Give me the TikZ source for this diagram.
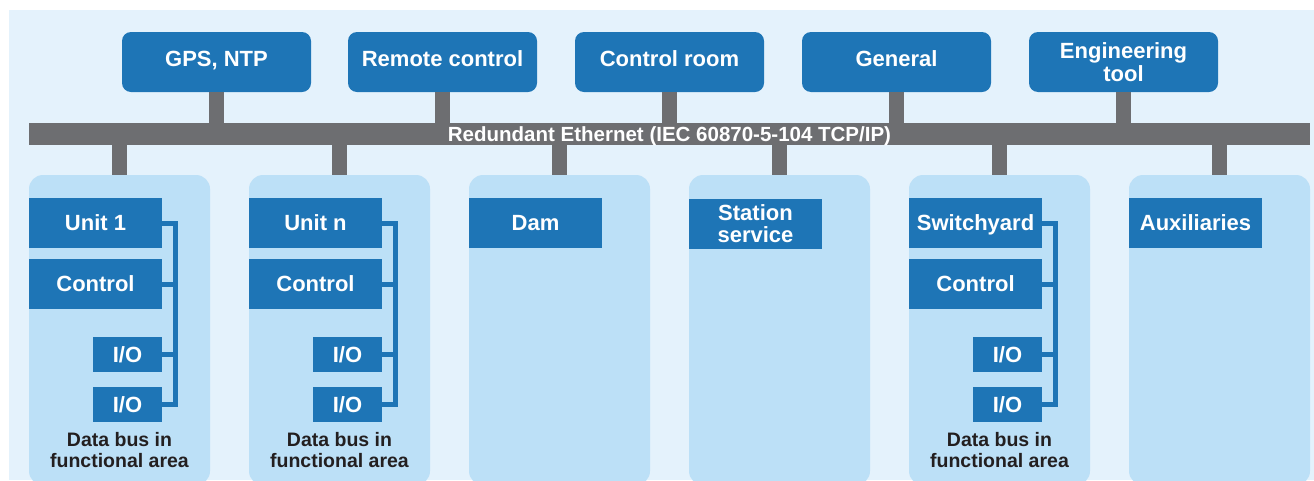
\documentclass[tikz,border=0pt]{standalone}
\usepackage{fontspec}
\setmainfont{Liberation Sans}
\definecolor{boxblue}{HTML}{1E75B6}
\definecolor{areablue}{HTML}{BCE0F7}
\definecolor{paleblue}{HTML}{E4F2FC}
\definecolor{busgray}{HTML}{6D6E71}
\definecolor{labeldark}{HTML}{231F20}
\tikzset{topbase/.style={fill=boxblue, text=white, rounded corners=9pt, minimum width=189pt, minimum height=60pt, inner sep=0pt, align=center, font=\bfseries\fontsize{22}{23}\selectfont}}
\tikzset{topbox/.style={topbase, text height=15.8pt, text depth=7pt}}
\tikzset{areabox/.style={fill=areablue, rounded corners=14pt, minimum width=181pt, minimum height=310pt, inner sep=0pt}}
\tikzset{blockbase/.style={fill=boxblue, text=white, minimum width=133pt, minimum height=50pt, inner sep=0pt, align=center, font=\bfseries\fontsize{22}{22}\selectfont}}
\tikzset{unitbox/.style={blockbase, text height=15.8pt, text depth=0pt}}
\tikzset{iobox/.style={fill=boxblue, text=white, minimum width=69pt, minimum height=35pt, inner sep=0pt, text height=15.8pt, text depth=0pt, font=\bfseries\fontsize{22}{22}\selectfont}}
\tikzset{stem/.style={draw=busgray, line width=15pt}}
\tikzset{databus/.style={draw=boxblue, line width=5pt}}
\tikzset{buslabel/.style={text=labeldark, align=center, inner sep=0pt, font=\bfseries\fontsize{19.5}{21}\selectfont}}

\begin{document}
\begin{tikzpicture}[x=1pt, y=-1pt]
	\useasboundingbox (0,0) rectangle (1314,480);
	\clip (0,0) rectangle (1314,480);
	\fill[paleblue] (9,10) rectangle (1314,480);

	% Top row
	\node[topbox] (gps) at (216.5,62) {GPS, NTP};
	\node[topbox] (remote) at (442.5,62) {Remote control};
	\node[topbox] (ctrlroom) at (669.5,62) {Control room};
	\node[topbox] (general) at (896.5,62) {General};
	\node[topbase] (engtool) at (1123.5,62) {Engineering\\tool};

	% Ethernet
	\node[fill=busgray, minimum width=1281pt, minimum height=22pt, inner sep=0pt, text height=14.7pt, text depth=0pt, text=white, font=\bfseries\fontsize{20.5}{21}\selectfont] (ether) at (669.5,134) {Redundant Ethernet (IEC 60870-5-104 TCP/IP)};

	% Functional areas
	\node[areabox] (area1) at (119.5,330) {};
	\node[areabox] (area2) at (339.5,330) {};
	\node[areabox] (area3) at (559.5,330) {};
	\node[areabox] (area4) at (779.5,330) {};
	\node[areabox] (area5) at (999.5,330) {};
	\node[areabox] (area6) at (1219.5,330) {};

	% Stems
	\draw[stem] (gps.south) -- (gps.south |- ether.north);
	\draw[stem] (remote.south) -- (remote.south |- ether.north);
	\draw[stem] (ctrlroom.south) -- (ctrlroom.south |- ether.north);
	\draw[stem] (general.south) -- (general.south |- ether.north);
	\draw[stem] (engtool.south) -- (engtool.south |- ether.north);

	\draw[stem] (area1.north |- ether.south) -- (area1.north);
	\draw[stem] (area2.north |- ether.south) -- (area2.north);
	\draw[stem] (area3.north |- ether.south) -- (area3.north);
	\draw[stem] (area4.north |- ether.south) -- (area4.north);
	\draw[stem] (area5.north |- ether.south) -- (area5.north);
	\draw[stem] (area6.north |- ether.south) -- (area6.north);

	% Unit 1
	\node[unitbox] (unit1) at (95.5,223) {Unit 1};
	\node[unitbox] (ctl1) at (95.5,284) {Control};
	\node[iobox] (ioa1) at (127.5,354.5) {I/O};
	\node[iobox] (iob1) at (127.5,404.5) {I/O};
	\coordinate (db1 top) at (175.5,223);	\coordinate (db1 bottom) at (175.5,404.5);
	\draw[databus] (unit1.east) -- (db1 top) -- (db1 bottom) -- (iob1.east);
	\draw[databus] (ctl1.east) -- (ctl1.east -| db1 top);
	\draw[databus] (ioa1.east) -- (ioa1.east -| db1 top);
	\node[buslabel] (db1 label) at (119.5,450.5) {Data bus in\\functional area};

	% Unit n
	\node[unitbox] (unitn) at (315.5,223) {Unit n};
	\node[unitbox] (ctln) at (315.5,284) {Control};
	\node[iobox] (ioan) at (347.5,354.5) {I/O};
	\node[iobox] (iobn) at (347.5,404.5) {I/O};
	\coordinate (dbn top) at (395.5,223);	\coordinate (dbn bottom) at (395.5,404.5);
	\draw[databus] (unitn.east) -- (dbn top) -- (dbn bottom) -- (iobn.east);
	\draw[databus] (ctln.east) -- (ctln.east -| dbn top);
	\draw[databus] (ioan.east) -- (ioan.east -| dbn top);
	\node[buslabel] (dbn label) at (339.5,450.5) {Data bus in\\functional area};

	% Dam, station service
	\node[unitbox] (dam) at (535.5,223) {Dam};
	\node[blockbase] (station) at (755.5,223.5) {Station\\service};

	% Switchyard
	\node[unitbox] (swyard) at (975.5,223) {Switchyard};
	\node[unitbox] (ctlsw) at (975.5,284) {Control};
	\node[iobox] (ioasw) at (1007.5,354.5) {I/O};
	\node[iobox] (iobsw) at (1007.5,404.5) {I/O};
	\coordinate (dbsw top) at (1055.5,223);	\coordinate (dbsw bottom) at (1055.5,404.5);
	\draw[databus] (swyard.east) -- (dbsw top) -- (dbsw bottom) -- (iobsw.east);
	\draw[databus] (ctlsw.east) -- (ctlsw.east -| dbsw top);
	\draw[databus] (ioasw.east) -- (ioasw.east -| dbsw top);
	\node[buslabel] (dbsw label) at (999.5,450.5) {Data bus in\\functional area};

	% Auxiliaries
	\node[unitbox] (aux) at (1195.5,223) {Auxiliaries};

\end{tikzpicture}
\end{document}
